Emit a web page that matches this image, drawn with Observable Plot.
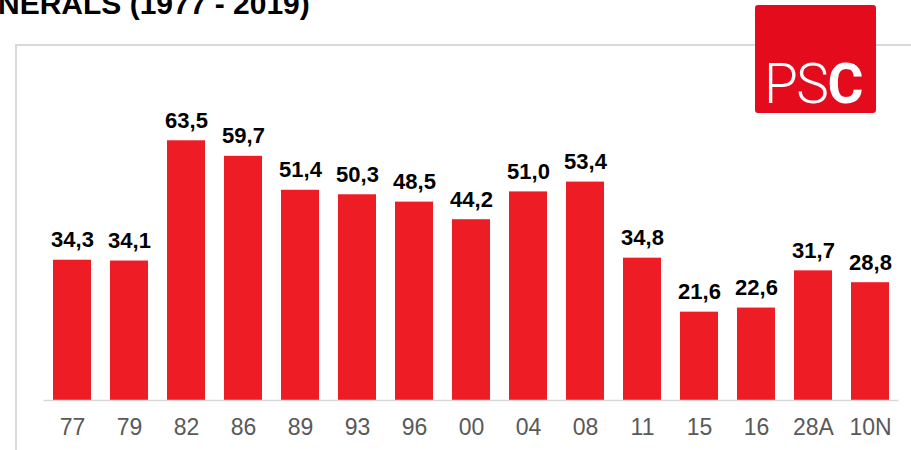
<!DOCTYPE html>
<html>
<head>
<meta charset="utf-8">
<script src="https://cdn.jsdelivr.net/npm/d3@7"></script>
<script src="https://cdn.jsdelivr.net/npm/@observablehq/plot@0.6"></script>
<style>
  html, body { margin: 0; padding: 0; background: #fff; }
  body { width: 911px; height: 450px; overflow: hidden; position: relative; font-family: "Liberation Sans", Arial, sans-serif; }
  #frame { position: absolute; left: 15px; top: 44px; width: 920px; height: 430px; border-left: 2px solid #d9d9d9; border-top: 2px solid #d9d9d9; }
  #title { position: absolute; left: -2px; top: -15px; font-size: 30px; font-weight: bold; color: #000; white-space: nowrap; line-height: 37px; }
  #chart { position: absolute; left: 0; top: 0; }
  #logo { position: absolute; left: 755px; top: 5px; width: 121px; height: 108px; background: #E30B1C; border-radius: 3px; }
  #logo span.t { position: absolute; left: 9px; top: 48px; font-family: Roboto, "Liberation Sans", sans-serif; font-size: 55px; line-height: 62px; color: #fff; white-space: nowrap; letter-spacing: -1.5px; }
  #logo .l { font-weight: 300; }
  #logo .b { font-weight: 700; }
</style>
</head>
<body>
<div id="frame"></div>
<div id="chart"></div>
<div id="title">NERALS (1977 - 2019)</div>
<div id="logo"><span class="t"><span class="l">PS</span><span class="b">C</span></span></div>
<script>
const years = ["77","79","82","86","89","93","96","00","04","08","11","15","16","28A","10N"];
const values = [34.3,34.1,63.5,59.7,51.4,50.3,48.5,44.2,51.0,53.4,34.8,21.6,22.6,31.7,28.8];

const data = years.map((y, i) => ({year: y, value: values[i]}));
const fmt = v => v.toFixed(1).replace(".", ",");

const chart = Plot.plot({
  width: 911,
  height: 450,
  marginLeft: 43.5,
  marginRight: 12.5,
  marginTop: 0,
  marginBottom: 50,
  style: { fontFamily: "'Liberation Sans', Arial, sans-serif", background: "transparent", overflow: "visible" },
  x: { domain: years, paddingInner: 0.333, paddingOuter: 0.1665, round: false, label: null },
  y: { domain: [0, 97.8], axis: null },
  marks: [
    Plot.barY(data, { x: "year", y: "value", fill: "#EE1C25" }),
    Plot.ruleY([0], { stroke: "#d9d9d9", strokeWidth: 1.5 }),
    Plot.text(data, { x: "year", y: "value", text: d => fmt(d.value), lineAnchor: "bottom", dy: -13, fontSize: 22, fontWeight: "bold", fill: "#000" }),
    Plot.axisX({ tickSize: 0, tickPadding: 18, fontSize: 23, fill: "#595959", label: null })
  ]
});
document.getElementById("chart").appendChild(chart);
</script>
</body>
</html>
